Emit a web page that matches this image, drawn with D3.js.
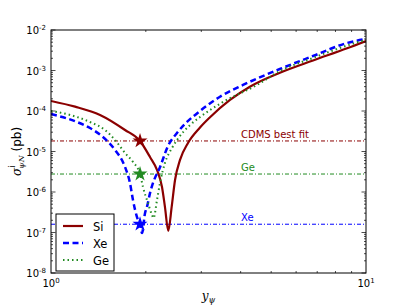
<!DOCTYPE html>
<html>
<head>
<meta charset="utf-8">
<script src="https://cdn.jsdelivr.net/npm/d3@7"></script>
<style>
  body { margin: 0; background: #fff; }
  svg { font-family: "DejaVu Sans", sans-serif; }
</style>
</head>
<body>
<div id="chart"></div>
<script>
// curve samples: [y_psi, sigma (pb)]
var siData = [
  [1.000, 1.77e-4], [1.192, 1.28e-4], [1.431, 8.0e-5], [1.718, 3.4e-5], [1.917, 1.82e-5],
  [2.062, 7.3e-6], [2.170, 3.5e-6], [2.251, 1.33e-6], [2.300, 4.3e-7], [2.357, 1.1e-7],
  [2.416, 4.3e-7], [2.476, 1.98e-6], [2.568, 6.2e-6], [2.722, 1.62e-5], [2.972, 3.9e-5],
  [3.198, 7.0e-5], [3.700, 1.87e-4], [4.280, 3.98e-4], [5.330, 8.8e-4], [6.790, 1.77e-3],
  [8.710, 3.53e-3], [10.00, 5.35e-3]
];
var xeData = [
  [1.000, 8.4e-5], [1.209, 5.35e-5], [1.330, 3.8e-5], [1.462, 2.28e-5], [1.597, 1.09e-5],
  [1.718, 4.14e-6], [1.781, 1.67e-6], [1.821, 6.3e-7], [1.875, 2.41e-7], [1.917, 1.62e-7],
  [1.945, 9.7e-8], [1.988, 3.0e-7], [2.017, 4.3e-7], [2.062, 9.4e-7], [2.108, 1.67e-6],
  [2.218, 4.1e-6], [2.352, 1.37e-5], [2.512, 2.86e-5], [2.664, 4.8e-5], [2.972, 1.0e-4],
  [3.440, 2.25e-4], [4.070, 4.4e-4], [5.330, 1.09e-3], [6.790, 2.28e-3], [8.710, 4.78e-3],
  [10.00, 6.0e-3]
];
var geData = [
  [1.000, 1.0e-4], [1.149, 8.0e-5], [1.330, 5.35e-5], [1.484, 3.4e-5], [1.597, 1.92e-5],
  [1.718, 9.2e-6], [1.821, 5.5e-6], [1.917, 2.78e-6], [1.959, 1.33e-6], [2.032, 5.3e-7],
  [2.093, 2.7e-7], [2.116, 2.28e-7], [2.170, 6.3e-7], [2.218, 1.67e-6], [2.300, 5.2e-6],
  [2.422, 1.22e-5], [2.512, 1.92e-5], [2.763, 4.5e-5], [2.972, 7.1e-5], [3.516, 1.67e-4],
  [4.510, 4.4e-4], [5.330, 9.7e-4], [6.790, 2.04e-3], [8.710, 4.14e-3], [10.00, 5.7e-3]
];

// horizontal reference levels and the star markers sitting on them
var levelNames = ["CDMS best fit", "Ge", "Xe"];
var levelValues = [1.82e-5, 2.78e-6, 1.6e-7];
var levelColors = ["#8b0000", "#228b22", "#0000ff"];
var starX = 1.917;

var seriesNames = ["Si", "Xe", "Ge"];
var seriesColors = ["#8b0000", "#0000ff", "#228b22"];

var yTickValues = [1e-8, 1e-7, 1e-6, 1e-5, 1e-4, 1e-3, 1e-2];
var yTickExps = ["-8", "-7", "-6", "-5", "-4", "-3", "-2"];
var xTickValues = [1, 10];
var xTickExps = ["0", "1"];

var margin = {top: 30, right: 41, bottom: 32, left: 51},
    width = 407 - margin.left - margin.right,
    height = 305 - margin.top - margin.bottom;

var svg = d3.select("#chart").append("svg")
    .attr("width", 407)
    .attr("height", 305);
var g = svg.append("g")
    .attr("transform", "translate(" + margin.left + "," + margin.top + ")");

var x = d3.scaleLog().domain([1, 10]).range([0, width]);
var y = d3.scaleLog().domain([1e-8, 1e-2]).range([height, 0]);

// clip everything to the axes box
g.append("clipPath").attr("id", "plotclip")
  .append("rect").attr("width", width).attr("height", height);
var plot = g.append("g").attr("clip-path", "url(#plotclip)");

// minor ticks
var xMinor = [];
for (var i = 2; i <= 9; i++) xMinor.push(i);
var yMinor = [];
for (var e = -8; e < -2; e++) for (var m = 2; m <= 9; m++) yMinor.push(m * Math.pow(10, e));

var ticks = g.append("g").attr("stroke", "#000").attr("stroke-width", 0.7);
xMinor.forEach(function(v) {
  ticks.append("line").attr("x1", x(v)).attr("x2", x(v)).attr("y1", height).attr("y2", height - 2);
  ticks.append("line").attr("x1", x(v)).attr("x2", x(v)).attr("y1", 0).attr("y2", 2);
});
yMinor.forEach(function(v) {
  ticks.append("line").attr("y1", y(v)).attr("y2", y(v)).attr("x1", 0).attr("x2", 2);
  ticks.append("line").attr("y1", y(v)).attr("y2", y(v)).attr("x1", width).attr("x2", width - 2);
});
yTickValues.forEach(function(v) {
  ticks.append("line").attr("y1", y(v)).attr("y2", y(v)).attr("x1", 0).attr("x2", 4.5);
  ticks.append("line").attr("y1", y(v)).attr("y2", y(v)).attr("x1", width).attr("x2", width - 4.5);
});

// tick labels
yTickValues.forEach(function(v, i) {
  var t = g.append("text")
    .attr("x", -5).attr("y", y(v) + 4)
    .attr("text-anchor", "end")
    .attr("font-size", 10);
  t.append("tspan").text("10");
  t.append("tspan").attr("dy", -4).attr("font-size", 7).text(yTickExps[i]);
});
xTickValues.forEach(function(v, i) {
  var t = g.append("text")
    .attr("x", x(v)).attr("y", height + 14)
    .attr("text-anchor", "middle")
    .attr("font-size", 10);
  t.append("tspan").text("10");
  t.append("tspan").attr("dy", -4).attr("font-size", 7).text(xTickExps[i]);
});

// reference levels
var levelDash = "4,2,1,2";
levelValues.forEach(function(v, i) {
  plot.append("line")
    .attr("x1", 0).attr("x2", width)
    .attr("y1", y(v)).attr("y2", y(v))
    .attr("stroke", levelColors[i])
    .attr("stroke-width", 1)
    .attr("stroke-dasharray", levelDash);
  plot.append("text")
    .attr("x", 190).attr("y", y(v) - 3)
    .attr("font-size", 10)
    .attr("fill", levelColors[i])
    .text(levelNames[i]);
});

// curves
var line = d3.line()
    .x(function(d) { return x(d[0]); })
    .y(function(d) { return y(d[1]); })
    .curve(d3.curveMonotoneX);

var dashes = [null, "6,3.5", "1.5,3"];
var widths = [2.2, 2.5, 2];
[siData, xeData, geData].forEach(function(data, i) {
  plot.append("path")
    .datum(data)
    .attr("fill", "none")
    .attr("stroke", seriesColors[i])
    .attr("stroke-width", widths[i])
    .attr("stroke-dasharray", dashes[i])
    .attr("d", line);
});

// stars
var star = d3.symbol().type(d3.symbolStar).size(70);
levelValues.forEach(function(v, i) {
  plot.append("path")
    .attr("d", star)
    .attr("transform", "translate(" + x(starX) + "," + y(v) + ")")
    .attr("fill", levelColors[i]);
});

// frame
g.append("rect")
  .attr("width", width).attr("height", height)
  .attr("fill", "none").attr("stroke", "#000").attr("stroke-width", 1);

// legend
var lg = g.append("g").attr("transform", "translate(5," + (height - 59) + ")");
lg.append("rect")
  .attr("width", 58).attr("height", 57)
  .attr("fill", "#fff").attr("stroke", "#000").attr("stroke-width", 1);
seriesNames.forEach(function(name, i) {
  var yy = 12 + i * 17;
  lg.append("line")
    .attr("x1", 7).attr("x2", 27).attr("y1", yy).attr("y2", yy)
    .attr("stroke", seriesColors[i])
    .attr("stroke-width", widths[i])
    .attr("stroke-dasharray", dashes[i]);
  lg.append("text")
    .attr("x", 37).attr("y", yy + 4.5)
    .attr("font-size", 11.5)
    .text(name);
});

// axis labels
var xl = svg.append("text")
  .attr("x", margin.left + width / 2).attr("y", 300)
  .attr("text-anchor", "middle")
  .attr("font-size", 12);
xl.append("tspan").attr("font-family", "DejaVu Serif").attr("font-style", "italic").text("y");
xl.append("tspan").attr("dy", 3).attr("font-size", 8.5).attr("font-family", "DejaVu Serif").attr("font-style", "italic").text("ψ");

var yl = svg.append("text")
  .attr("transform", "translate(21," + (margin.top + height / 2) + ") rotate(-90)")
  .attr("text-anchor", "middle")
  .attr("font-size", 12);
yl.append("tspan").attr("font-family", "DejaVu Serif").attr("font-style", "italic").text("σ");
yl.append("tspan").attr("dy", -6).attr("font-size", 8).text("i");
yl.append("tspan").attr("dx", -3).attr("dy", 9).attr("font-size", 8).attr("font-family", "DejaVu Serif").attr("font-style", "italic").text("ψN");
yl.append("tspan").attr("dy", -3).text(" (pb)");
</script>
</body>
</html>
